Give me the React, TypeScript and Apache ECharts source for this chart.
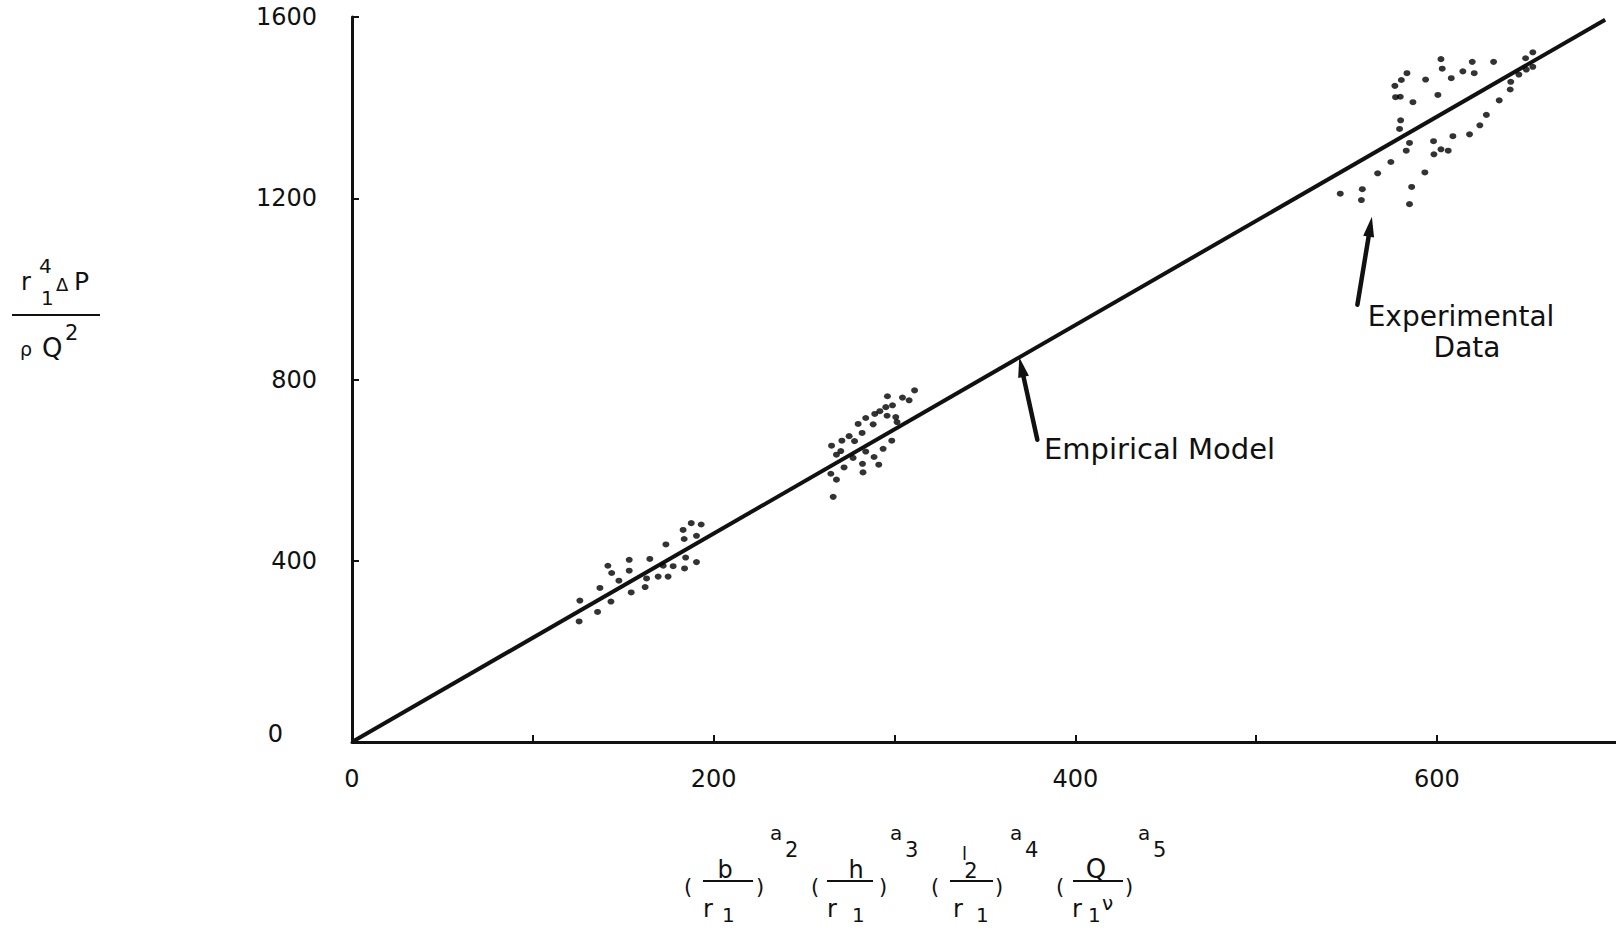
import React, { useEffect, useRef } from "react";
import * as echarts from "echarts";

// Experimental points, grouped by the three test runs
const lowRun: number[][] = [
  [125.6, 266], [126, 312], [135.8, 287], [137.1, 340], [143.2, 310], [141.5, 389],
  [143.6, 373], [147.6, 356], [153.3, 402], [153.3, 378], [154.4, 330], [162.1, 342],
  [162.9, 361], [164.7, 404], [169.3, 365], [173.6, 436], [172.1, 389], [174.8, 365],
  [177.6, 388], [183.1, 468], [183.7, 448], [187.6, 483], [193.1, 480], [190.5, 455],
  [184.5, 407], [183.9, 383], [190.5, 397],
];
const midRun: number[][] = [
  [266.1, 541], [264.8, 592], [267.9, 579], [272.1, 606], [265.2, 654], [267.9, 634],
  [270.3, 642], [270.9, 665], [274.9, 675], [277.1, 627], [277.9, 664], [282.1, 682],
  [279.9, 702], [282.3, 614], [282.6, 595], [284.1, 641], [284.1, 715], [288.2, 701],
  [289.1, 724], [291.9, 730], [288.7, 629], [291.3, 612], [293.7, 647], [295.2, 739],
  [295.9, 720], [298.5, 665], [298.9, 743], [296.1, 763], [300.7, 717], [301.4, 706],
  [304.4, 760], [308.1, 754], [311.1, 776],
];
const highRun: number[][] = [
  [546.5, 1210], [558.7, 1220], [558.2, 1196], [567.2, 1255], [574.5, 1280], [584.8, 1187],
  [586.0, 1225], [593.3, 1257], [583.0, 1305], [584.8, 1322], [579.3, 1353], [579.9, 1372],
  [577.1, 1423], [579.7, 1424], [576.7, 1448], [580.3, 1461], [583.4, 1476], [586.7, 1412],
  [593.7, 1462], [600.5, 1428], [602.2, 1507], [602.9, 1486], [607.9, 1465], [598.1, 1326],
  [598.3, 1297], [602.2, 1308], [606.2, 1305], [608.8, 1337], [614.3, 1480], [619.5, 1501],
  [620.6, 1476], [618.0, 1341], [623.7, 1361], [627.3, 1384], [631.3, 1501], [634.4, 1416],
  [640.5, 1440], [640.8, 1457], [645.3, 1473], [649.4, 1484], [653.0, 1490], [649.0, 1509],
  [653.0, 1522],
];

// Fitted empirical model, end points of the straight line
const modelLine: number[][] = [[0, 0], [693, 1594]];

// Axis ranges and ticks
const xMax = 699;
const xTickStep = 100;
const xLabelStep = 200;
const yMax = 1600;
const yTickStep = 400;

// Annotation arrows, in data units: [tail, tip]
const modelArrow: number[][] = [[379, 667], [369, 849]];
const dataArrow: number[][] = [[556, 965], [564, 1159]];

const INK = "#111";
const FONT = "DejaVu Sans";

function txt(text: string, x: number, y: number, fontSize: number, align: string = "left") {
  return {
    type: "text",
    x,
    y,
    silent: true,
    style: {
      text,
      fill: INK,
      font: `${fontSize}px "${FONT}"`,
      align,
      verticalAlign: "middle",
    },
  };
}

function hline(x1: number, x2: number, y: number) {
  return {
    type: "line",
    silent: true,
    shape: { x1, y1: y, x2, y2: y },
    style: { stroke: INK, lineWidth: 2 },
  };
}

function arrow(tail: number[], tip: number[]) {
  const dx = tip[0] - tail[0];
  const dy = tip[1] - tail[1];
  const len = Math.sqrt(dx * dx + dy * dy);
  const ux = dx / len;
  const uy = dy / len;
  const headLen = 20;
  const halfW = 5.5;
  const bx = tip[0] - ux * headLen;
  const by = tip[1] - uy * headLen;
  return [
    {
      type: "line",
      silent: true,
      shape: { x1: tail[0], y1: tail[1], x2: bx + ux * 2, y2: by + uy * 2 },
      style: { stroke: INK, lineWidth: 4.5, lineCap: "round" },
    },
    {
      type: "polygon",
      silent: true,
      shape: {
        points: [
          [tip[0], tip[1]],
          [bx - uy * halfW, by + ux * halfW],
          [bx + uy * halfW, by - ux * halfW],
        ],
      },
      style: { fill: INK },
    },
  ];
}

// Ratio group of the x-axis title: "( num / den ) ^ a_k"
function ratioGroup(
  x0: number,
  num: any[],
  lineFrom: number,
  lineTo: number,
  den: any[],
  close: number,
  exp: string,
  expX: number
) {
  return [
    txt("(", x0, 887, 21),
    ...num,
    hline(lineFrom, lineTo, 881),
    txt(")", close, 887, 21),
    ...den,
    txt("a", expX, 833, 20),
    txt(exp, expX + 15, 850, 21),
  ];
}

export default function App() {
  const ref = useRef<HTMLDivElement>(null);

  useEffect(() => {
    if (!ref.current) return;
    const chart = echarts.init(ref.current, null, { renderer: "svg" });

    const option: any = {
      animation: false,
      backgroundColor: "#ffffff",
      grid: { left: 352, right: 0, top: 17, bottom: 188 },
      xAxis: {
        type: "value",
        min: 0,
        max: xMax,
        interval: xTickStep,
        axisLine: { lineStyle: { color: INK, width: 3 } },
        axisTick: { inside: true, length: 7, lineStyle: { color: INK, width: 2 } },
        axisLabel: {
          formatter: (v: number) => (v % xLabelStep === 0 ? String(v) : ""),
          margin: 25,
          fontSize: 24,
          fontFamily: FONT,
          color: INK,
          showMaxLabel: false,
        },
        splitLine: { show: false },
      },
      yAxis: {
        type: "value",
        min: 0,
        max: yMax,
        interval: yTickStep,
        axisLine: { lineStyle: { color: INK, width: 3 } },
        axisTick: { inside: true, length: 7, lineStyle: { color: INK, width: 2 } },
        axisLabel: {
          formatter: (v: number) => (v === 0 ? "{z|0}" : String(v)),
          margin: 35,
          fontSize: 24,
          fontFamily: FONT,
          color: INK,
          rich: {
            z: {
              fontSize: 24,
              fontFamily: FONT,
              color: INK,
              padding: [0, 34, 16, 0],
            },
          },
        },
        splitLine: { show: false },
      },
      series: [
        {
          type: "line",
          data: modelLine,
          showSymbol: false,
          lineStyle: { color: INK, width: 4 },
          z: 2,
        },
        {
          type: "scatter",
          data: [...lowRun, ...midRun, ...highRun],
          symbol: "circle",
          symbolSize: [7, 6],
          itemStyle: { color: "#000" },
          z: 3,
        },
      ],
    };
    chart.setOption(option);

    const px = (p: number[]) => chart.convertToPixel({ gridIndex: 0 }, p) as number[];

    const graphic: any[] = [
      // y-axis title: r1^4 ΔP / ρ Q^2
      txt("r", 21, 282, 24),
      txt("4", 39, 266, 20),
      txt("1", 41, 298, 20),
      txt("Δ", 56, 284, 18),
      txt("P", 74, 281, 25),
      hline(12, 100, 315),
      txt("ρ", 20, 349, 19),
      txt("Q", 42, 348, 26),
      txt("2", 65, 333, 21),

      // x-axis title: four dimensionless ratios
      ...ratioGroup(
        684,
        [txt("b", 725, 870, 24, "center")],
        703, 753,
        [txt("r", 703, 909, 24), txt("1", 722, 915, 20)],
        756, "2", 770
      ),
      ...ratioGroup(
        811,
        [txt("h", 856, 870, 24, "center")],
        827, 873,
        [txt("r", 827, 909, 24), txt("1", 852, 915, 20)],
        879, "3", 890
      ),
      ...ratioGroup(
        931,
        [txt("l", 962, 853, 18), txt("2", 971, 871, 21, "center")],
        950, 993,
        [txt("r", 953, 909, 24), txt("1", 976, 915, 20)],
        995, "4", 1010
      ),
      ...ratioGroup(
        1056,
        [txt("Q", 1096, 869, 26, "center")],
        1073, 1123,
        [txt("r", 1072, 909, 24), txt("ν", 1102, 903, 20), txt("1", 1088, 915, 20)],
        1125, "5", 1138
      ),

      // annotations
      txt("Empirical Model", 1044, 449, 29),
      txt("Experimental", 1461, 316, 28, "center"),
      txt("Data", 1467, 347, 28, "center"),
      ...arrow(px(modelArrow[0]), px(modelArrow[1])),
      ...arrow(px(dataArrow[0]), px(dataArrow[1])),
    ];
    chart.setOption({ graphic });

    return () => chart.dispose();
  }, []);

  return (
    <div
      ref={ref}
      style={{ position: "fixed", left: 0, top: 0, width: "1616px", height: "930px", background: "#fff" }}
    />
  );
}
